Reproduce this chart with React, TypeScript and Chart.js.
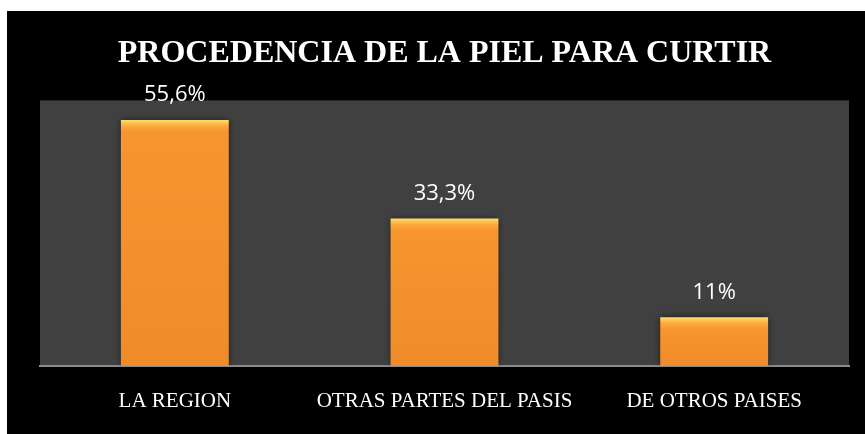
import React, { useEffect, useRef } from "react";
import { Chart, registerables } from "chart.js";

Chart.register(...registerables);

const TITLE = "PROCEDENCIA DE LA PIEL PARA CURTIR";
const categories = ["LA REGION", "OTRAS PARTES DEL PASIS", "DE OTROS PAISES"];
const values = [55.6, 33.3, 11];
const valueLabels = ["55,6%", "33,3%", "11%"];
const yMax = 60;

const backgroundPlugin = {
  id: "bgPlugin",
  beforeDraw(chart: any) {
    const { ctx, chartArea } = chart;
    ctx.save();
    ctx.fillStyle = "#000000";
    ctx.fillRect(0, 0, chart.width, chart.height);
    ctx.fillStyle = "#404040";
    ctx.fillRect(chartArea.left, chartArea.top, chartArea.right - chartArea.left, chartArea.bottom - chartArea.top);
    ctx.restore();
  },
  beforeDatasetsDraw(chart: any) {
    const ctx = chart.ctx;
    ctx.save();
    ctx.shadowColor = "rgba(0,0,0,0.6)";
    ctx.shadowBlur = 7;
    ctx.shadowOffsetX = 0;
    ctx.shadowOffsetY = 0;
  },
  afterDatasetsDraw(chart: any) {
    const ctx = chart.ctx;
    ctx.restore();
    const meta = chart.getDatasetMeta(0);
    ctx.save();
    ctx.fillStyle = "#ffffff";
    ctx.font = '22px "Open Sans", "Noto Sans", sans-serif';
    ctx.textAlign = "center";
    ctx.textBaseline = "middle";
    meta.data.forEach((bar: any, i: number) => {
      ctx.fillText(valueLabels[i], bar.x, bar.y - 25);
    });
    ctx.restore();
  },
};

export default function App() {
  const ref = useRef<HTMLCanvasElement | null>(null);
  useEffect(() => {
    if (!ref.current) return;
    const chart = new Chart(ref.current, {
      type: "bar",
      data: {
        labels: categories,
        datasets: [
          {
            data: values,
            backgroundColor: (context: any) => {
              const chart = context.chart;
              const y = chart.scales?.y;
              if (!y || context.dataIndex === undefined || !chart.chartArea) return "#F7962E";
              const top = y.getPixelForValue(values[context.dataIndex]);
              const bottom = y.getPixelForValue(0);
              if (!isFinite(top) || !isFinite(bottom)) return "#F7962E";
              const h = Math.max(bottom - top, 1);
              const g = chart.ctx.createLinearGradient(0, top, 0, bottom);
              g.addColorStop(0, "#FFDD6E");
              g.addColorStop(Math.min(6 / h, 0.5), "#FCAA3C");
              g.addColorStop(Math.min(12 / h, 0.6), "#F7962E");
              g.addColorStop(1, "#EE8C2A");
              return g;
            },
            borderWidth: 0,
            barPercentage: 0.4,
            categoryPercentage: 1,
          },
        ],
      },
      plugins: [backgroundPlugin],
      options: {
        responsive: false,
        animation: false,
        devicePixelRatio: 1,
        layout: { padding: { left: 33, right: 16, top: 0, bottom: 11 } },
        plugins: {
          legend: { display: false },
          tooltip: { enabled: false },
          title: {
            display: true,
            text: TITLE,
            color: "#ffffff",
            fullSize: false,
            font: { family: '"Liberation Serif", "Times New Roman", serif', size: 32, weight: "bold", lineHeight: 1.2 },
            padding: { top: 24, bottom: 27 },
          },
        },
        scales: {
          y: {
            display: false,
            min: 0,
            max: yMax,
          },
          x: {
            grid: { display: false, drawTicks: false },
            border: { display: true, color: "#8a8a8a", width: 2 },
            afterFit: (scale: any) => {
              scale.height = 57;
            },
            ticks: {
              color: "#ffffff",
              padding: 23,
              font: { family: '"Liberation Serif", "Times New Roman", serif', size: 21 },
            },
          },
        },
      },
    });
    return () => chart.destroy();
  }, []);
  return (
    <div style={{ position: "absolute", left: 7, top: 11, width: 858, height: 423 }}>
      <canvas ref={ref} width={858} height={423} style={{ display: "block" }} />
    </div>
  );
}
